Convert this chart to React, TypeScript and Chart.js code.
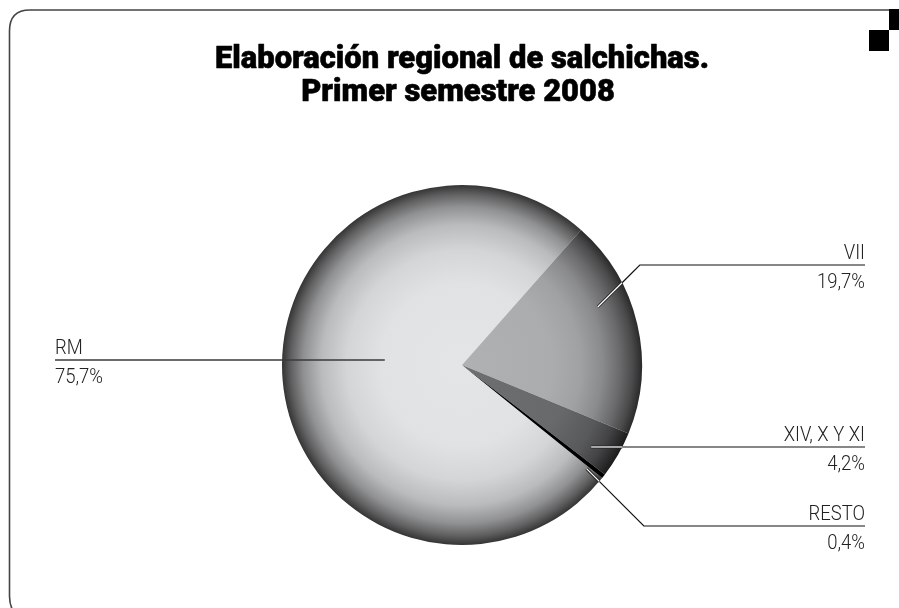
import React, { useEffect, useRef } from "react";
import { Chart, registerables } from "chart.js";

Chart.register(...registerables);

// ---- data ----
const categories = ["RM", "VII", "XIV, X Y XI", "RESTO"];
const shares = [75.7, 19.7, 4.2, 0.4];
const valueLabels = ["75,7%", "19,7%", "4,2%", "0,4%"];
const titleLines = ["Elaboración regional de salchichas.", "Primer semestre 2008"];

// ---- styles ----
const sliceStops: [number, string][][] = [
  [[0, "#e4e5e6"], [0.45, "#e1e2e3"], [0.64, "#d4d5d6"], [0.78, "#babbbc"], [0.88, "#909192"], [0.95, "#606061"], [1, "#343434"]],
  [[0, "#b0b1b3"], [0.5, "#abacae"], [0.66, "#a0a1a3"], [0.78, "#8a8b8d"], [0.88, "#69696b"], [0.95, "#4a4a4b"], [1, "#2a2a2a"]],
  [[0, "#6e6f71"], [0.6, "#68696b"], [0.8, "#58595b"], [0.9, "#444446"], [1, "#1c1c1c"]],
  [[0, "#000000"], [1, "#000000"]],
];

const leaders = [
  { side: "left", lineY: null as number | null, frac: 0.43, off: 8.5, halo: false },
  { side: "right", lineY: 265 as number | null, frac: 0.82, off: -10, halo: true },
  { side: "right", lineY: null as number | null, frac: 0.85, off: 2.5, halo: true },
  { side: "right", lineY: 526 as number | null, frac: 0.9, off: 1.6, halo: true },
];

const LABEL_FONT = "Roboto, 'Liberation Sans', sans-serif";
const TITLE_FONT = "Roboto, 'Liberation Sans', sans-serif";

function gradientFor(chart: any, i: number) {
  const area = chart.chartArea;
  if (!area) return sliceStops[i][0][1];
  const cx = (area.left + area.right) / 2;
  const cy = (area.top + area.bottom) / 2;
  const r = Math.min(area.right - area.left, area.bottom - area.top) / 2;
  const g = chart.ctx.createRadialGradient(cx, cy, 0, cx, cy, r);
  sliceStops[i].forEach(([o, c]) => g.addColorStop(o, c));
  return g;
}

const decorPlugin = {
  id: "decor",
  beforeDraw(chart: any) {
    const ctx = chart.ctx;
    ctx.save();
    ctx.fillStyle = "#ffffff";
    ctx.fillRect(0, 0, chart.width, chart.height);
    ctx.strokeStyle = "#444";
    ctx.lineWidth = 1.6;
    ctx.beginPath();
    ctx.moveTo(889, 10);
    ctx.lineTo(30, 10);
    ctx.quadraticCurveTo(9.5, 10, 9.5, 31);
    ctx.lineTo(9.5, 596);
    ctx.quadraticCurveTo(9.5, 606, 14, 612);
    ctx.stroke();
    ctx.restore();
  },
  afterDraw(chart: any) {
    const ctx = chart.ctx;
    ctx.save();
    ctx.fillStyle = "#000";
    ctx.fillRect(889, 9, 10, 21);
    ctx.fillRect(869, 30, 20, 21);

    // title
    ctx.fillStyle = "#000";
    ctx.strokeStyle = "#000";
    ctx.lineWidth = 0.6;
    ctx.lineJoin = "round";
    ctx.font = `900 32px ${TITLE_FONT}`;
    ctx.textAlign = "center";
    ctx.textBaseline = "alphabetic";
    const w1 = ctx.measureText(titleLines[0]).width;
    const sx = 494 / w1;
    const baselines = [68, 101];
    titleLines.forEach((t, k) => {
      ctx.save();
      ctx.translate(k === 0 ? 462 : 458, baselines[k]);
      ctx.scale(sx, 1);
      ctx.fillText(t, 0, 0);
      ctx.strokeText(t, 0, 0);
      ctx.restore();
    });

    // label font scale
    ctx.font = `300 20px ${LABEL_FONT}`;
    const lsx = 48 / ctx.measureText("75,7%").width;

    const meta = chart.getDatasetMeta(0);
    meta.data.forEach((arc: any, i: number) => {
      const p = arc.getProps(["x", "y", "startAngle", "endAngle", "outerRadius"], true);
      const L = leaders[i];
      const mid = (p.startAngle + p.endAngle) / 2 + (L.off * Math.PI) / 180;
      const ar = p.outerRadius * L.frac;
      const ax = p.x + Math.cos(mid) * ar;
      const ay = p.y + Math.sin(mid) * ar;
      const lineY = L.lineY == null ? ay : L.lineY;
      const pts: [number, number][] = [[ax, ay]];
      let endX: number;
      if (L.side === "right") {
        endX = 865;
        if (Math.abs(lineY - ay) > 1) pts.push([ax + Math.abs(lineY - ay), lineY]);
        pts.push([endX, lineY]);
      } else {
        endX = 55;
        pts.push([endX, lineY]);
      }
      const inside = (x: number, y: number) => Math.hypot(x - p.x, y - p.y) < p.outerRadius;
      const [x0, y0] = pts[0];
      const [x1, y1] = pts[1];
      let lo = 0, hi = 1;
      for (let k = 0; k < 30; k++) {
        const m = (lo + hi) / 2;
        if (inside(x0 + (x1 - x0) * m, y0 + (y1 - y0) * m)) lo = m; else hi = m;
      }
      const ex = x0 + (x1 - x0) * lo;
      const ey = y0 + (y1 - y0) * lo;

      ctx.lineCap = "butt";
      ctx.lineJoin = "miter";
      if (L.halo) {
        ctx.strokeStyle = "#111";
        ctx.lineWidth = 1.2;
        ctx.beginPath();
        ctx.moveTo(ex, ey);
        for (let k = 1; k < pts.length; k++) ctx.lineTo(pts[k][0], pts[k][1]);
        ctx.stroke();
        ctx.strokeStyle = "#222";
        ctx.lineWidth = 3;
        ctx.beginPath();
        ctx.moveTo(x0, y0);
        ctx.lineTo(ex, ey);
        ctx.stroke();
        ctx.strokeStyle = "#ffffff";
        ctx.lineWidth = 1.2;
        ctx.beginPath();
        ctx.moveTo(x0, y0);
        ctx.lineTo(ex, ey);
        ctx.stroke();
      } else {
        ctx.strokeStyle = "#3a3a3a";
        ctx.lineWidth = 1.5;
        ctx.beginPath();
        ctx.moveTo(pts[0][0], pts[0][1]);
        for (let k = 1; k < pts.length; k++) ctx.lineTo(pts[k][0], pts[k][1]);
        ctx.stroke();
      }

      ctx.fillStyle = "#222";
      ctx.font = `300 20px ${LABEL_FONT}`;
      ctx.textAlign = L.side === "right" ? "right" : "left";
      ctx.textBaseline = "alphabetic";
      const drawLabel = (t: string, y: number) => {
        ctx.save();
        ctx.translate(endX, y);
        ctx.scale(lsx, 1.05);
        ctx.fillText(t, 0, 0);
        ctx.restore();
      };
      drawLabel(categories[i], lineY - 6);
      drawLabel(valueLabels[i], lineY + 23);
    });
    ctx.restore();
  },
};

export default function App() {
  const ref = useRef<HTMLCanvasElement | null>(null);
  useEffect(() => {
    if (!ref.current) return;
    const chart = new Chart(ref.current, {
      type: "pie",
      data: {
        labels: categories,
        datasets: [
          {
            data: shares,
            backgroundColor: (c: any) => gradientFor(c.chart, c.dataIndex),
            borderWidth: 0,
          },
        ],
      },
      options: {
        responsive: false,
        animation: false,
        rotation: 128.9,
        layout: { padding: { left: 282, right: 257, top: 185, bottom: 63 } },
        plugins: { legend: { display: false }, tooltip: { enabled: false }, title: { display: false } },
      },
      plugins: [decorPlugin],
    } as any);
    return () => chart.destroy();
  }, []);
  return (
    <div style={{ position: "fixed", left: 0, top: 0, width: 899, height: 608, background: "#fff" }}>
      <canvas ref={ref} width={899} height={608} style={{ width: 899, height: 608, display: "block" }} />
    </div>
  );
}
